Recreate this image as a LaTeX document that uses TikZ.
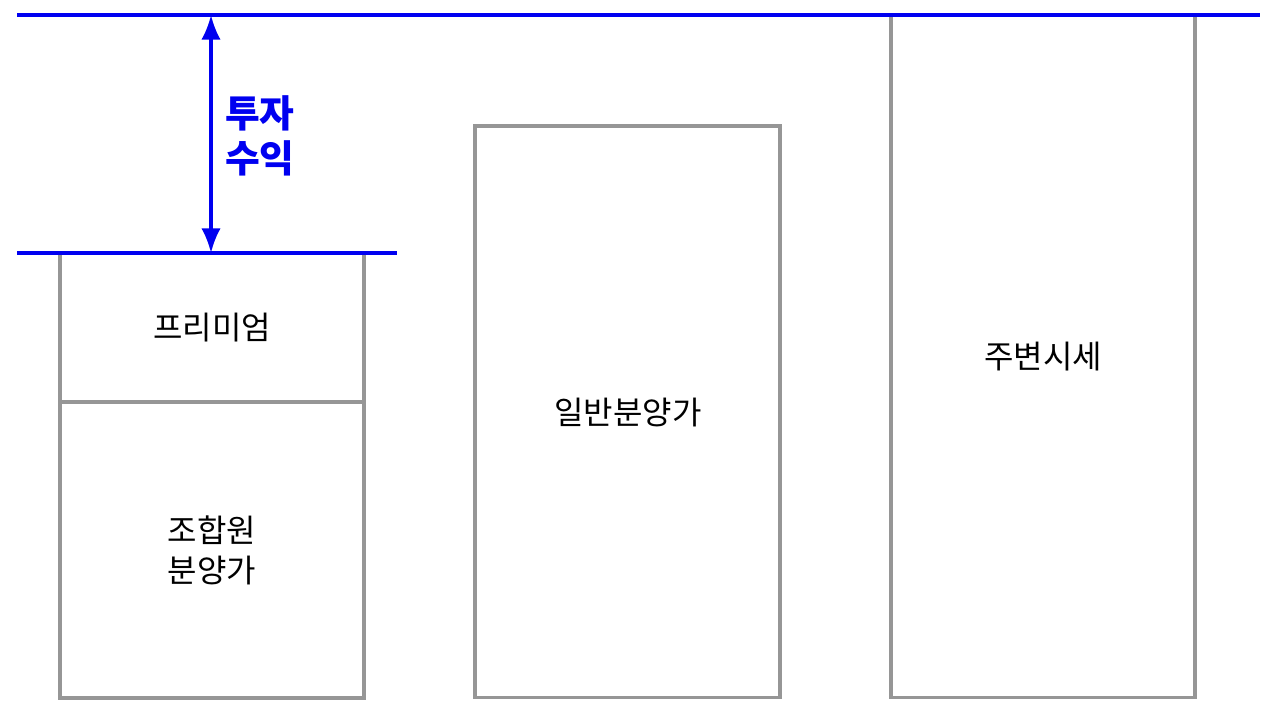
\documentclass[tikz,border=0pt]{standalone}
\usepackage{fontspec}
\setmainfont{Noto Sans CJK KR}
\usetikzlibrary{arrows.meta}
\definecolor{boxgray}{RGB}{150,150,150}
\definecolor{gainblue}{RGB}{0,0,240}
\tikzset{
  pricebox/.style={rectangle,draw=boxgray,line width=1.8pt,anchor=north west,inner sep=0pt,outer sep=0pt},
  pricelabel/.style={font=\fontsize{18.2}{22.7}\selectfont,align=center,text=black},
  levelline/.style={draw=gainblue,line width=2.2pt},
  gainlabel/.style={font=\fontsize{21.5}{25.5}\selectfont\bfseries,align=left,text=gainblue,anchor=west}
}

\begin{document}
\begin{tikzpicture}[x=0.02cm,y=-0.02cm]
    \useasboundingbox (0,0) rectangle (1280,721);

    % — Price boxes
    \node[pricebox,minimum width=6.08cm,minimum height=2.98cm] (premium) at (60,253) {};
    \node[pricebox,minimum width=6.08cm,minimum height=5.92cm] (member)  at (60,402) {};
    \node[pricebox,minimum width=6.10cm,minimum height=11.44cm] (general) at (475,126) {};
    \node[pricebox,minimum width=6.08cm,minimum height=13.66cm] (market)  at (891,15) {};

    % — Box labels
    \node[pricelabel] (premiumtxt) at (212,328) {프리미엄};
    \node[pricelabel] (membertxt)  at (212,550) {조합원\\분양가};
    \node[pricelabel] (generaltxt) at (628,412) {일반분양가};
    \node[pricelabel] (markettxt)  at (1043,357) {주변시세};

    % — Price levels
    \coordinate (hiL) at (17,15);
    \coordinate (hiR) at (1260,15);
    \coordinate (loL) at (17,253);
    \coordinate (loR) at (397,253);
    \draw[levelline] (hiL) -- (hiR);
    \draw[levelline] (loL) -- (loR);

    % — Investment gain
    \coordinate (gainTop) at (211,15);
    \coordinate (gainBot) at (211,253);
    \draw[levelline,line width=1.8pt,{Latex[length=14pt,width=11pt]}-{Latex[length=14pt,width=11pt]}] (gainBot) -- (gainTop);
    \node[gainlabel] (gaintxt) at (219,136) {투자\\수익};
\end{tikzpicture}
\end{document}
